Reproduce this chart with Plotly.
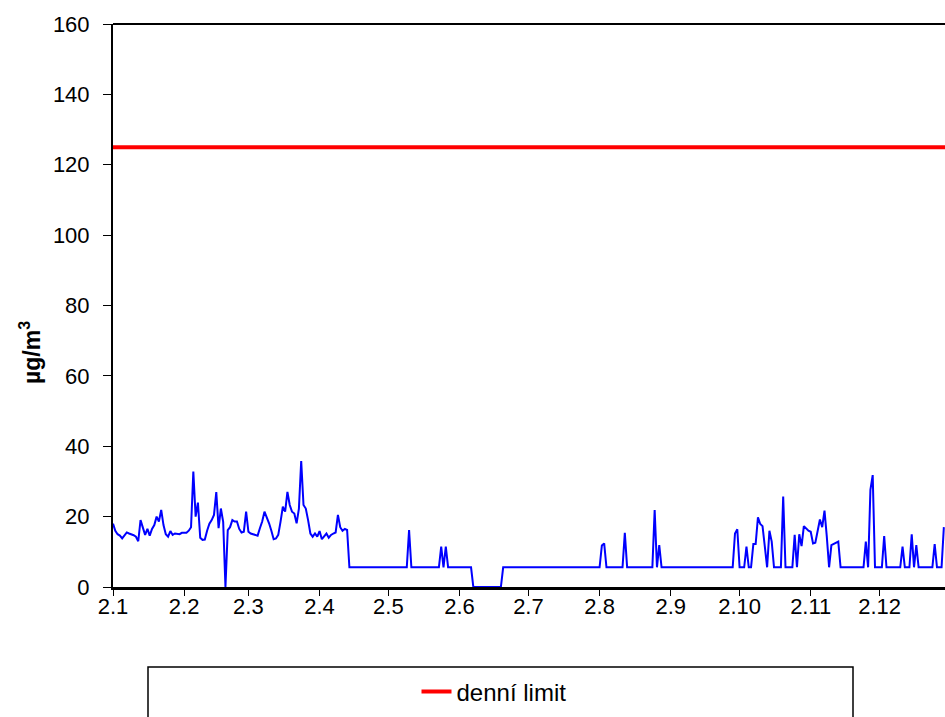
import pandas as pd
import plotly.graph_objects as go

# --- DATA (daily values, µg/m3) ---
START_DATE = "2009-01-02"
X_END = "2009-12-30 12:00"
LIMIT = 125  # denní limit

jan = [18, 16, 15, 14.6, 13.8, 14.5, 15.5, 15.2, 15, 14.7,
       14.3, 13, 19, 16.5, 14.8, 16.5, 14.6, 16.5, 17.6, 20,
       18.6, 21.9, 17.6, 15, 14.3, 15.9, 14.8, 15.2, 15, 15]
feb = [15.4, 15.4, 15.4, 16, 17, 32.8, 20, 24, 14, 13.4,
       13.5, 16, 18, 19, 20.5, 27, 16.7, 22.3, 18.5, 0,
       16.2, 17, 19, 18.6, 18.6, 16.5, 15.5, 15.7]
mar = [21.4, 15.7, 15.2, 15, 14.8, 14.6, 16.7, 18.6, 21.4, 20,
       18.1, 16, 13.6, 13.8, 14.8, 18.6, 22.8, 21.4, 27, 23.3,
       21.4, 20.9, 18.1, 22.3, 35.8, 23.3, 22.3, 19, 15.2, 14.3,
       15.2]
apr = [14.3, 15.9, 13.6, 14.5, 15.2, 14, 14.8, 15.2, 15.5, 20.5,
       17, 16, 16.5, 16.2, 5.6, 5.6, 5.6, 5.6, 5.6, 5.6,
       5.6, 5.6, 5.6, 5.6, 5.6, 5.6, 5.6, 5.6, 5.6, 5.6]
may = [5.6, 5.6, 5.6, 5.6, 5.6, 5.6, 5.6, 5.6, 5.6, 5.6,
       16.2, 5.6, 5.6, 5.6, 5.6, 5.6, 5.6, 5.6, 5.6, 5.6,
       5.6, 5.6, 5.6, 5.6, 11.5, 5.6, 11.5, 5.6, 5.6, 5.6,
       5.6]
jun = [5.6, 5.6, 5.6, 5.6, 5.6, 5.6, 5.6, 0, 0, 0,
       0, 0, 0, 0, 0, 0, 0, 0, 0, 0,
       5.6, 5.6, 5.6, 5.6, 5.6, 5.6, 5.6, 5.6, 5.6, 5.6]
jul = [5.6, 5.6, 5.6, 5.6, 5.6, 5.6, 5.6, 5.6, 5.6, 5.6,
       5.6, 5.6, 5.6, 5.6, 5.6, 5.6, 5.6, 5.6, 5.6, 5.6,
       5.6, 5.6, 5.6, 5.6, 5.6, 5.6, 5.6, 5.6, 5.6, 5.6,
       5.6]
aug = [5.6, 5.6, 11.8, 12.4, 5.6, 5.6, 5.6, 5.6, 5.6, 5.6,
       5.6, 5.6, 15.4, 5.6, 5.6, 5.6, 5.6, 5.6, 5.6, 5.6,
       5.6, 5.6, 5.6, 5.6, 5.6, 21.9, 5.6, 11.9, 5.6, 5.6,
       5.6]
sep = [5.6, 5.6, 5.6, 5.6, 5.6, 5.6, 5.6, 5.6, 5.6, 5.6,
       5.6, 5.6, 5.6, 5.6, 5.6, 5.6, 5.6, 5.6, 5.6, 5.6,
       5.6, 5.6, 5.6, 5.6, 5.6, 5.6, 5.6, 5.6, 5.6, 15.2]
oct_ = [16.4, 5.6, 5.6, 5.6, 11.5, 5.6, 5.6, 12.2, 12.2, 19.8,
        17.9, 17.3, 11.5, 5.6, 16, 12.9, 5.6, 5.6, 5.6, 5.6,
        25.7, 5.6, 5.6, 5.6, 5.6, 14.8, 5.6, 15, 11.6, 17.3,
        16.7]
nov = [16, 15.7, 12.4, 12.6, 15.7, 19.2, 17, 21.7, 14.3, 5.6,
       11.9, 12.2, 12.5, 12.9, 5.6, 5.6, 5.6, 5.6, 5.6, 5.6,
       5.6, 5.6, 5.6, 5.6, 5.6, 12.9, 5.6, 27.6, 31.8, 5.6]
dec = [5.6, 5.6, 5.6, 14.5, 5.6, 5.6, 5.6, 5.6, 5.6, 5.6,
       5.6, 11.5, 5.6, 5.6, 5.6, 15, 5.6, 11.9, 5.6, 5.6,
       5.6, 5.6, 5.6, 5.6, 5.6, 12.2, 5.6, 5.6, 5.6, 17]

TICK_LABELS = ["2.1", "2.2", "2.3", "2.4", "2.5", "2.6",
               "2.7", "2.8", "2.9", "2.10", "2.11", "2.12"]

values = jan + feb + mar + apr + may + jun + jul + aug + sep + oct_ + nov + dec
dates = pd.date_range(START_DATE, periods=len(values), freq="D")

# tick label "d.m" -> date of that day in 2009
tick_dates = [pd.Timestamp(2009, int(t.split(".")[1]), int(t.split(".")[0]))
              for t in TICK_LABELS]

FONT = "Liberation Sans, Arial, sans-serif"

fig = go.Figure()

fig.add_trace(go.Scatter(x=dates, y=values, mode="lines",
                         line=dict(color="#0000FF", width=2),
                         showlegend=False, name="PM10"))

fig.add_trace(go.Scatter(x=[START_DATE, X_END], y=[LIMIT, LIMIT], mode="lines",
                         line=dict(color="#FF0000", width=4),
                         name="denní limit"))

# plot area in pixels: x 113..945, y 24..587
FIG_W, FIG_H = 945, 717
L, T, W, H = 113, 24, 832, 563

def px_x(x):
    return (x - L) / W

def px_y(y):
    return (T + H - y) / H

fig.update_layout(
    width=FIG_W, height=FIG_H, autosize=False,
    margin=dict(l=L, r=FIG_W - L - W, t=T, b=FIG_H - T - H),
    paper_bgcolor="white", plot_bgcolor="white",
    font=dict(family=FONT, size=22, color="black"),
    legend=dict(orientation="h", x=px_x(494), xanchor="center",
                y=px_y(692), yanchor="middle",
                bgcolor="rgba(0,0,0,0)", font=dict(size=24)),
    shapes=[
        # top border of the plot area
        dict(type="line", xref="paper", yref="paper", x0=0, x1=1, y0=1, y1=1,
             line=dict(color="black", width=2)),
        # legend frame
        dict(type="rect", xref="paper", yref="paper",
             x0=px_x(148), x1=px_x(853), y0=px_y(667), y1=px_y(740),
             line=dict(color="black", width=1.5)),
    ],
    annotations=[
        dict(text="<b>µg/m<sup>3</sup></b>", xref="paper", yref="paper",
             x=px_x(30), y=px_y(353), xanchor="center", yanchor="middle",
             textangle=-90, showarrow=False, font=dict(size=23)),
    ],
)

fig.update_xaxes(type="date", range=[START_DATE, X_END],
                 tickvals=tick_dates, ticktext=TICK_LABELS,
                 ticks="outside", ticklen=6, tickcolor="black",
                 ticklabelstandoff=-8,
                 showline=True, linewidth=3, linecolor="black",
                 showgrid=False, zeroline=False)

fig.update_yaxes(range=[0, 160], dtick=20, tick0=0,
                 ticks="outside", ticklen=8, tickcolor="black",
                 ticklabelstandoff=9,
                 showline=True, linewidth=2, linecolor="black",
                 showgrid=False, zeroline=False)

# drop the default page margin so the figure sits at the window's corner
fig.write_html("out.html",
               config={"responsive": False, "displayModeBar": False},
               post_script="document.body.style.margin = '0px';")
